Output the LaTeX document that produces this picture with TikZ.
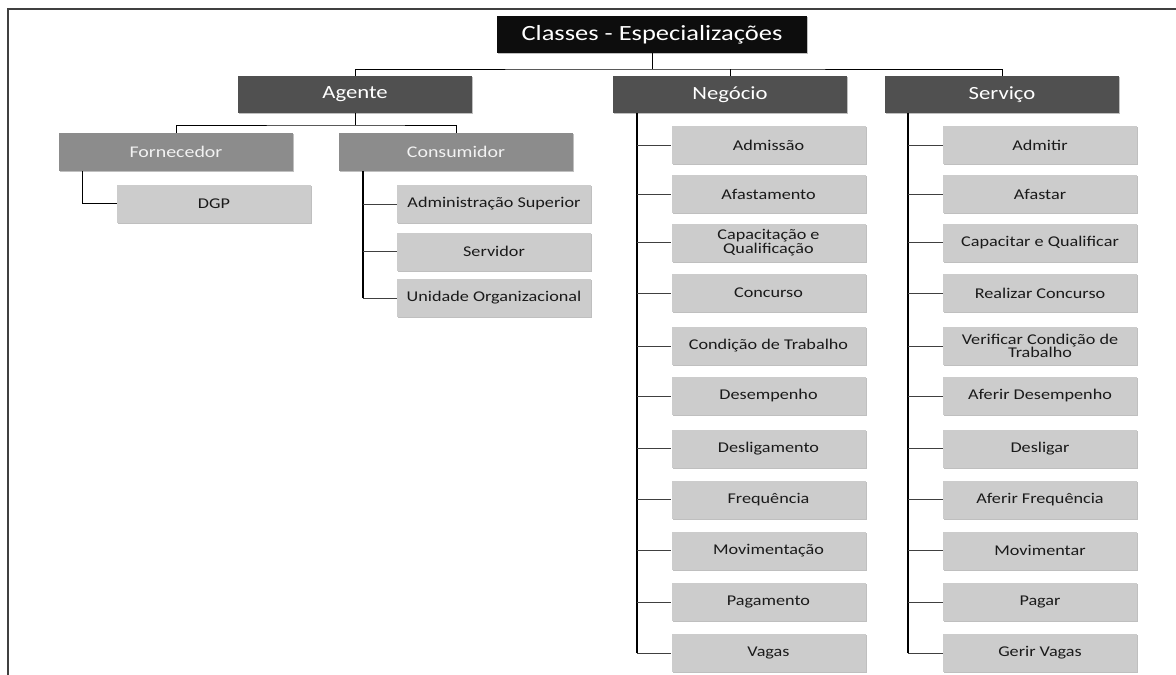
\documentclass[tikz,border=0pt]{standalone}
\usepackage{fontspec}
\setmainfont{Carlito}[FakeStretch=1.22]
\usetikzlibrary{shadows}
\definecolor{titlefill}{HTML}{0D0D0D}
\definecolor{lvlone}{HTML}{505050}
\definecolor{lvltwo}{HTML}{8C8C8C}
\definecolor{leaffill}{HTML}{CCCCCC}
\definecolor{leaftext}{HTML}{1A1A1A}
\begin{document}
\begin{tikzpicture}[x=1pt,y=-1pt,
  boxbase/.style={rectangle, inner sep=0pt, align=center,
    drop shadow={shadow xshift=1pt, shadow yshift=-1.4pt, opacity=0.25, fill=black}},
  titlebox/.style={boxbase, fill=titlefill, text=white, minimum width=310pt, minimum height=37pt,
    font=\fontsize{21.7}{24}\selectfont},
  groupbox/.style={boxbase, fill=lvlone, text=white, minimum width=234pt, minimum height=37pt,
    font=\fontsize{18.6}{20}\selectfont},
  subbox/.style={boxbase, fill=lvltwo, text=white!95!black, minimum width=234pt, minimum height=38pt,
    font=\fontsize{16.3}{18}\selectfont},
  leafbox/.style={boxbase, fill=leaffill, text=leaftext, minimum width=194pt, minimum height=38pt,
    font=\fontsize{14.9}{13.3}\selectfont},
  link/.style={draw=black, line width=1pt},
  trunk/.style={draw=black, line width=1.6pt},
  stub/.style={draw=black!75, line width=1pt},
  frame/.style={draw=black!75, line width=1.3pt}]
\useasboundingbox (0,0) rectangle (1176,675);

% outer frame (top and left edges)
\draw[frame] (8,675) -- (8,9) -- (1176,9);

% root and first level
\node[titlebox] (root) at (652,34.5) {Classes - Especializações};
\node[groupbox] (ag)  at (355,94.5) {Agente};
\node[groupbox] (neg) at (730,94.5) {Negócio};
\node[groupbox] (sv)  at (1002,94.5) {Serviço};

\coordinate (hub) at (652,69);
\draw[link] (root.south) -- (hub);
\draw[link] (ag.north) |- (hub) -| (sv.north);
\draw[link] (neg.north) -- (neg.north |- hub);

% Agente branch
\node[subbox] (forn) at (176,152) {Fornecedor};
\node[subbox] (cons) at (456,152) {Consumidor};
\coordinate (aghub) at (355,125);
\draw[link] (ag.south) -- (aghub);
\draw[link] (forn.north) |- (aghub) -| (cons.north);

\node[leafbox] (dgp) at (214,203.5) {DGP};
\draw[link] ([xshift=24pt]forn.south west) |- (dgp.west);

\node[leafbox] (c1) at (494,204) {Administração Superior};
\node[leafbox] (c2) at (494,251.5) {Servidor};
\node[leafbox] (c3) at (494,298) {Unidade Organizacional};
\draw[trunk] ([xshift=24pt]cons.south west) -- ([xshift=24pt]cons.south west |- c3.west);
\foreach \n in {c1,c2,c3}
  \draw[stub] ([xshift=24pt]cons.south west |- \n.west) -- (\n.west);

% Negócio branch
\foreach \i/\y/\t in {1/145/{Admissão}, 2/194/{Afastamento},
    3/242.5/{Capacitação e\\Qualificação}, 4/293/{Concurso},
    5/346/{Condição de Trabalho}, 6/396/{Desempenho},
    7/448.5/{Desligamento}, 8/499.5/{Frequência},
    9/550.5/{Movimentação}, 10/602/{Pagamento}, 11/653/{Vagas}}
  \node[leafbox] (n\i) at (768.5,\y) {\t};
\draw[trunk] ([xshift=24pt]neg.south west) -- ([xshift=24pt]neg.south west |- n11.west);
\foreach \i in {1,...,11}
  \draw[stub] ([xshift=24pt]neg.south west |- n\i.west) -- (n\i.west);

% Serviço branch
\foreach \i/\y/\t in {1/145/{Admitir}, 2/194/{Afastar},
    3/242.5/{Capacitar e Qualificar}, 4/293/{Realizar Concurso},
    5/346/{Verificar Condição de\\Trabalho}, 6/396/{Aferir Desempenho},
    7/448.5/{Desligar}, 8/499.5/{Aferir Frequência},
    9/550.5/{Movimentar}, 10/602/{Pagar}, 11/653/{Gerir Vagas}}
  \node[leafbox] (s\i) at (1040,\y) {\t};
\draw[trunk] ([xshift=23pt]sv.south west) -- ([xshift=23pt]sv.south west |- s11.west);
\foreach \i in {1,...,11}
  \draw[stub] ([xshift=23pt]sv.south west |- s\i.west) -- (s\i.west);
\end{tikzpicture}
\end{document}
